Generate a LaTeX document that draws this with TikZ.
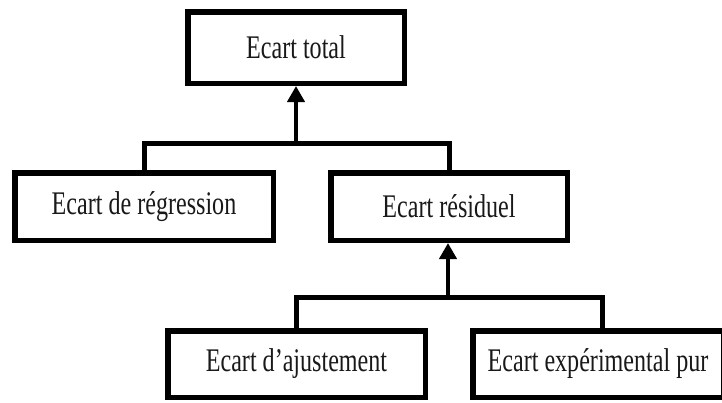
\documentclass[tikz,border=0pt]{standalone}
\usepackage{fontspec}
\usepackage{graphicx}
\setmainfont{Liberation Serif}
\usetikzlibrary{arrows.meta}
\newcommand{\sqz}[1]{\scalebox{0.73}[1]{#1}}
\begin{document}
\begin{tikzpicture}[x=1pt,y=-1pt,
  box/.style={draw=black, line width=5.5pt, fill=white, inner sep=0pt,
    font=\fontsize{33}{36}\selectfont, text=black!90},
  conn/.style={draw=black, line width=5pt},
  arr/.style={draw=black, line width=4.5pt, -{Triangle[width=17pt,length=16pt]}}]
\useasboundingbox[fill=white] (0,0) rectangle (722,402);
\begin{scope}
\clip (0,0) rectangle (722,402);
\node[box, minimum width=216.5pt, minimum height=71.5pt] (b1) at (296,47.5) {\sqz{Ecart total}};
\node[box, minimum width=258.5pt, minimum height=67.5pt] (b2) at (144,206.5) {\sqz{Ecart de régression}};
\node[box, minimum width=236.5pt, minimum height=67.5pt] (b3) at (449,206.5) {\sqz{Ecart résiduel}};
\node[box, minimum width=257.5pt, minimum height=66.5pt] (b4) at (296.5,364) {\sqz{Ecart d’ajustement}};
\node[box, minimum width=250.5pt, minimum height=66.5pt] (b5) at (598,364) {\sqz{Ecart expérimental pur}};
\coordinate (j1) at (296,143);
\coordinate (j2) at (448,297);
\coordinate (t5) at (602,330.75);
\draw[conn] (b2.north) |- (j1) -| (b3.north);
\draw[arr] (j1) -- (j1 |- b1.south);
\draw[conn] (b4.north) |- (j2) -| (t5);
\draw[arr] (j2) -- (j2 |- b3.south);
\end{scope}
\end{tikzpicture}
\end{document}
